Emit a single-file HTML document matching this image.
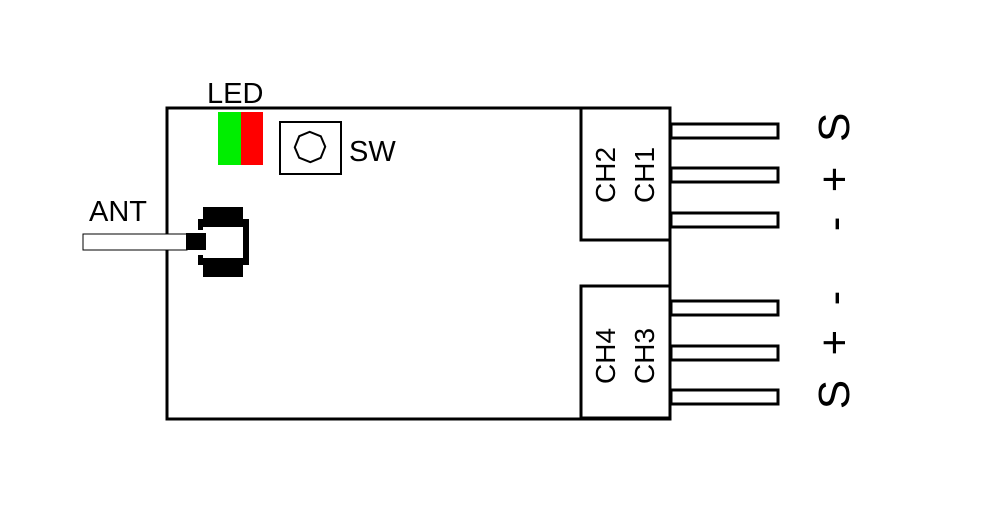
<!DOCTYPE html>
<html><head><style>body{margin:0;background:#fff}</style></head><body>
<svg width="1000" height="500" xmlns="http://www.w3.org/2000/svg" font-family="Liberation Sans, Arial, sans-serif">
<rect width="1000" height="500" fill="#fff"/>
<rect x="167" y="108" width="503" height="311" fill="none" stroke="#000" stroke-width="3"/>
<!-- connectors -->
<rect x="581" y="108" width="89" height="132" fill="#fff" stroke="#000" stroke-width="3"/>
<rect x="581" y="286" width="89" height="132" fill="#fff" stroke="#000" stroke-width="3"/>
<g fill="#fff" stroke="#000" stroke-width="3">
<rect x="671" y="124" width="107" height="14"/>
<rect x="671" y="168" width="107" height="14"/>
<rect x="671" y="213" width="107" height="14"/>
<rect x="671" y="301" width="107" height="14"/>
<rect x="671" y="346" width="107" height="14"/>
<rect x="671" y="390" width="107" height="14"/>
</g>
<g font-size="28" text-anchor="middle">
<text transform="translate(615,175) rotate(-90)">CH2</text>
<text transform="translate(654,175) rotate(-90)">CH1</text>
<text transform="translate(615,356) rotate(-90)">CH4</text>
<text transform="translate(654,356) rotate(-90)">CH3</text>
</g>
<g font-size="44" text-anchor="middle">
<text transform="translate(849,172) rotate(-90)" xml:space="preserve">-  +  S</text>
<text transform="translate(849,350) rotate(-90)" xml:space="preserve">S  +  -</text>
</g>
<!-- LED -->
<rect x="218" y="112" width="23" height="53" fill="#00ee00"/>
<rect x="241" y="112" width="22" height="53" fill="#ff0000"/>
<text x="207" y="103" font-size="29">LED</text>
<!-- SW -->
<rect x="280" y="122" width="61" height="52" fill="none" stroke="#000" stroke-width="2"/>
<polygon points="316,133 324,141 324,153 316,161 304,161 296,153 296,141 304,133" transform="rotate(22 310 147)" fill="none" stroke="#000" stroke-width="2"/>
<text x="349" y="161" font-size="29">SW</text>
<!-- ANT -->
<text x="89" y="221" font-size="29">ANT</text>
<rect x="83" y="234" width="104" height="16" fill="#fff" stroke="#000" stroke-width="1"/>
<rect x="186" y="233" width="20" height="17" fill="#000"/>
<rect x="203" y="207" width="40" height="20" fill="#000"/>
<rect x="203" y="258" width="40" height="19" fill="#000"/>
<rect x="243" y="219" width="6" height="46" fill="#000"/>
<rect x="198" y="219" width="5" height="11" fill="#000"/>
<rect x="198" y="255" width="5" height="10" fill="#000"/>
</svg>
</body></html>
